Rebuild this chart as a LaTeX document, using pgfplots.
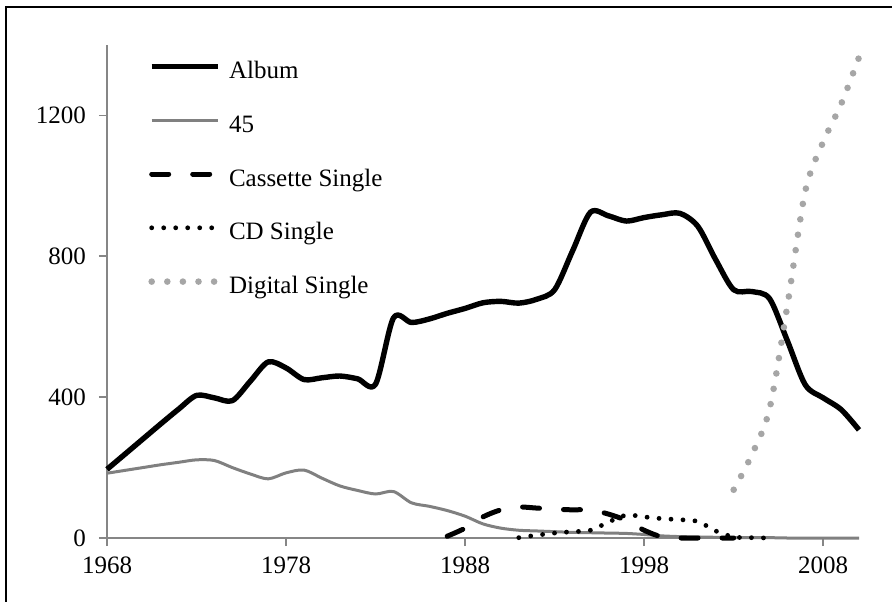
\documentclass[border=0pt]{standalone}
\usepackage{pgfplots}
\pgfplotsset{compat=1.18}
\usepackage{fontspec}
\setmainfont{Liberation Serif}
\definecolor{axgray}{HTML}{868686}
\definecolor{fortyfive}{HTML}{808080}
\definecolor{digi}{HTML}{A6A6A6}
\begin{document}
\begin{tikzpicture}[x=1pt,y=1pt]
\useasboundingbox (-53.5,-31.5) rectangle (392.5,269);
\draw[line width=1.1pt] (-50.5,-40) -- (-50.5,265.5) -- (400,265.5);
\begin{axis}[
  at={(0,0)}, anchor=origin,
  scale only axis, width=376pt, height=246.5pt,
  xmin=1968, xmax=2010, ymin=0, ymax=1400,
  xtick={1968,1978,1988,1998,2008},
  ytick={0,400,800,1200},
  axis x line*=bottom, axis y line*=left,
  axis line style={axgray, line width=0.8pt, -},
  tick style={axgray, line width=0.8pt},
  tick align=outside, major tick length=4pt,
  font=\fontsize{12.5}{15}\selectfont,
  /pgf/number format/assume math mode=true,
  /pgf/number format/set thousands separator={},
  xticklabel style={yshift=-2pt},
  yticklabel style={xshift=-3pt},
  legend cell align=left,
  legend style={draw=none, fill=none, at={(rel axis cs:0,1)}, anchor=north west,
    xshift=20.5pt, yshift=-8pt, row sep=15.9pt, inner sep=0pt,
    nodes={inner sep=0pt, text height=8.5pt, text depth=2.5pt},
    /tikz/every odd column/.style={column sep=4pt}},
  legend image code/.code={\draw[#1] (0pt,3pt) -- (33pt,3pt);},
  clip=false,
]
\addplot[black, line width=2.7pt, smooth, tension=0.5, line join=round] coordinates {
(1968,195) (1969,238) (1970,281) (1971,324) (1972,366) (1973,405) (1974,398)
(1975,390) (1976,445) (1977,500) (1978,483) (1979,450) (1980,455) (1981,460)
(1982,452) (1983,437) (1984,625) (1985,612) (1986,622) (1987,638) (1988,652)
(1989,668) (1990,672) (1991,667) (1992,678) (1993,705) (1994,815) (1995,925)
(1996,915) (1997,900) (1998,910) (1999,918) (2000,922) (2001,885) (2002,790)
(2003,705) (2004,700) (2005,680) (2006,560) (2007,435) (2008,398) (2009,365)
(2010,307)};
\addlegendentry{Album}
\addplot[fortyfive, line width=1.5pt, smooth, tension=0.5] coordinates {
(1968,184) (1969,192) (1970,200) (1971,208) (1972,215) (1973,222) (1974,220)
(1975,200) (1976,182) (1977,168) (1978,185) (1979,193) (1980,170) (1981,148)
(1982,135) (1983,125) (1984,132) (1985,100) (1986,90) (1987,78) (1988,62)
(1989,40) (1990,28) (1991,22) (1992,20) (1993,18) (1994,16) (1995,15)
(1996,14) (1997,13) (1998,10) (1999,6) (2000,4) (2001,3) (2002,2) (2003,1)
(2004,1) (2005,1) (2006,0) (2007,0) (2008,0) (2009,0) (2010,0)};
\addlegendentry{45}
\addplot[black, line width=2.5pt, smooth, tension=0.5, line cap=round, dash pattern=on 8.5pt off 12pt] coordinates {
(1987,5) (1988,28) (1989,60) (1990,80) (1991,88) (1992,85) (1993,82) (1994,80)
(1995,80) (1996,68) (1997,50) (1998,22) (1999,3) (2000,0) (2001,0) (2002,0) (2003,0)};
\addlegendentry{Cassette Single}
\addplot[black, line width=2.4pt, smooth, tension=0.5, line cap=round, dash pattern=on 0pt off 6pt] coordinates {
(1991,1) (1992,8) (1993,14) (1994,18) (1995,22) (1996,45) (1997,65) (1998,60)
(1999,55) (2000,52) (2001,47) (2002,20) (2003,3) (2004,1) (2005,0)};
\addlegendentry{CD Single}
\addplot[digi, line width=3.3pt, smooth, tension=0.5, line cap=round, dash pattern=on 0pt off 7.8pt] coordinates {
(2003,137) (2004,235) (2005,366) (2006,660) (2007,985) (2008,1125) (2009,1232) (2010,1365)};
\addlegendentry{Digital Single}
\end{axis}
\end{tikzpicture}
\end{document}
